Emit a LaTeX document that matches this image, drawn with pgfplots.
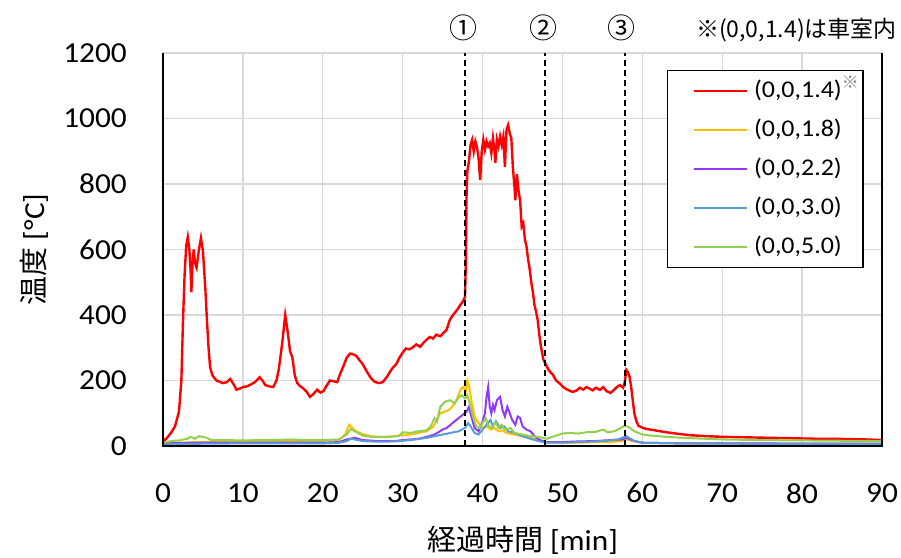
\documentclass[border=0pt]{standalone}
\usepackage{fontspec}
\setmainfont{Carlito}[FakeStretch=1.08]
\newfontfamily\cjk{Noto Sans CJK JP}
\usepackage{pgfplots}
\pgfplotsset{compat=1.18}
\definecolor{cRed}{RGB}{255,0,0}
\definecolor{cYel}{RGB}{255,192,0}
\definecolor{cPur}{RGB}{146,56,245}
\definecolor{cBlu}{RGB}{91,155,213}
\definecolor{cGrn}{RGB}{146,208,80}
\definecolor{cGrid}{RGB}{217,217,217}
\begin{document}
\begin{tikzpicture}
\path[use as bounding box] (-163pt,-111pt) rectangle (738pt,446pt);
\begin{axis}[
  at={(0pt,0pt)}, anchor=south west,
  scale only axis, width=719pt, height=393pt,
  xmin=0, xmax=90, ymin=0, ymax=1200,
  xtick={0,10,...,90}, ytick={0,200,...,1200},
  grid=major, major grid style={cGrid, line width=1.3pt},
  major tick length=0pt,
  axis line style={draw=none},
  clip=false,
  /pgf/number format/assume math mode=true,
  /pgf/number format/1000 sep={},
  tick label style={font=\fontsize{29}{34}\selectfont, inner sep=0pt},
  yticklabel style={anchor=east, xshift=-36pt},
  xticklabel style={anchor=north, yshift=-37pt},
  xlabel={{\cjk 経過時間} [min]},
  ylabel={{\cjk 温度} [°C]},
  label style={font=\fontsize{29}{34}\selectfont},
  xlabel style={at={(axis description cs:0.5,-0.239)}, anchor=center},
  ylabel style={at={(axis description cs:-0.179,0.5)}, anchor=center},
  legend cell align=left,
  legend image code/.code={\path (0pt,0pt); \draw[#1] (21pt,0pt) -- (74pt,0pt);},
  legend style={at={(rel axis cs:0.701,0.957)}, anchor=north west, draw=black, line width=1.2pt,
    font=\fontsize{24}{29}\selectfont, inner xsep=4pt, inner ysep=8pt, row sep=14pt, column sep=6pt,
    nodes={inner sep=0pt, text height=19pt, text depth=6pt}},
]
\addplot[cRed, line width=2.4pt] coordinates {
(0,12)(0.5,25)(1.0,40)(1.5,60)(2.0,105)(2.3,200)(2.5,380)(2.7,520)(2.9,610)(3.1,638)(3.3,600)(3.45,540)(3.55,470)(3.7,560)(3.85,600)(4.0,560)(4.2,545)(4.5,600)(4.75,635)(5.0,595)(5.3,480)(5.5,385)(5.7,300)(5.9,240)(6.2,215)(6.7,200)(7.2,195)(7.5,192)(8.0,195)(8.4,205)(8.8,190)(9.2,172)(9.6,175)(10,180)(10.5,182)(11,188)(11.5,195)(12.1,210)(12.5,198)(12.8,186)(13.3,182)(13.8,180)(14.2,200)(14.5,235)(14.9,310)(15.3,400)(15.6,350)(15.9,290)(16.2,270)(16.5,215)(16.8,192)(17.2,182)(17.5,177)(18.0,165)(18.4,150)(18.8,158)(19.3,172)(19.7,163)(20.1,168)(20.5,185)(20.9,200)(21.3,198)(21.8,195)(22.2,222)(22.6,245)(23.0,270)(23.4,282)(23.8,280)(24.2,275)(24.6,262)(25.0,250)(25.5,228)(26.0,208)(26.5,196)(27.0,192)(27.5,195)(28.0,210)(28.5,230)(28.8,240)(29.2,250)(29.6,270)(30.0,285)(30.4,298)(30.8,295)(31.2,300)(31.7,310)(32.2,303)(32.6,315)(33.0,325)(33.4,333)(33.8,328)(34.2,340)(34.7,335)(35.1,345)(35.5,355)(35.9,385)(36.3,400)(36.8,415)(37.2,430)(37.5,440)(37.8,455)(37.9,550)(38.0,770)(38.1,840)(38.3,870)(38.5,920)(38.7,935)(38.9,900)(39.1,930)(39.3,913)(39.5,880)(39.7,812)(39.9,900)(40.1,935)(40.3,905)(40.5,930)(40.7,915)(40.9,925)(41.1,895)(41.3,940)(41.5,900)(41.6,865)(41.8,935)(42.0,915)(42.2,945)(42.4,920)(42.6,945)(42.8,852)(43.0,965)(43.2,980)(43.4,955)(43.6,940)(43.8,850)(44.0,790)(44.1,750)(44.3,830)(44.5,780)(44.7,750)(44.9,670)(45.1,680)(45.3,630)(45.5,610)(45.7,570)(45.9,540)(46.1,500)(46.3,470)(46.5,430)(46.7,410)(46.9,385)(47.1,340)(47.3,305)(47.6,265)(47.9,250)(48.2,235)(48.5,225)(48.8,218)(49.2,200)(49.7,190)(50.1,180)(50.6,172)(51.0,168)(51.3,165)(51.8,170)(52.2,178)(52.6,172)(53.0,180)(53.4,175)(53.8,170)(54.2,178)(54.7,171)(55.1,180)(55.5,168)(56.0,162)(56.4,170)(56.8,180)(57.2,186)(57.6,178)(57.8,195)(58.0,232)(58.2,225)(58.4,212)(58.6,180)(58.8,140)(59.0,100)(59.2,80)(59.5,62)(60.0,56)(60.5,52)(61.3,49)(62.0,46)(63,42)(64.5,37)(66,33)(68,30)(70,28)(72,27)(74,26)(76,25)(78,24)(80,23)(82,22)(84,22)(86,21)(88,20)(90,18)};
\addlegendentry{(0,0,1.4)\textsuperscript{\color{gray}\cjk ※}}
\addplot[cYel, line width=2pt] coordinates {
(0,8)(2,10)(4,12)(6,12)(8,13)(10,14)(12,14)(14,15)(16,15)(18,15)(20,16)(22,18)(22.8,35)(23.3,65)(23.7,55)(24.2,45)(25,36)(26,30)(27,28)(28,28)(29,30)(30,33)(31,35)(32,40)(33,45)(33.8,58)(34.3,80)(34.7,100)(35.3,105)(35.9,112)(36.5,130)(36.9,150)(37.3,175)(37.6,180)(37.9,165)(38.1,200)(38.3,185)(38.6,140)(39.0,90)(39.5,70)(40.0,55)(40.5,60)(41.0,50)(41.5,55)(42.0,45)(42.5,48)(43,40)(44,35)(45,30)(46,25)(47,18)(48,12)(50,10)(52,10)(54,12)(56,12)(57.5,15)(58,20)(59,15)(60,10)(65,8)(70,8)(80,7)(90,7)};
\addlegendentry{(0,0,1.8)}
\addplot[cPur, line width=2pt] coordinates {
(0,8)(5,10)(10,10)(15,10)(20,10)(22,12)(23,20)(24,25)(25,18)(27,15)(29,15)(30,18)(31,20)(32,22)(33,28)(34,35)(35,50)(35.5,55)(36,65)(36.5,75)(37,85)(37.5,95)(38,105)(38.3,120)(38.6,90)(39,55)(39.5,45)(40.0,75)(40.3,100)(40.5,150)(40.7,180)(40.9,120)(41.1,100)(41.3,125)(41.5,110)(41.8,140)(42.2,150)(42.5,110)(42.8,90)(43.1,120)(43.4,100)(43.7,80)(44.1,65)(44.4,90)(44.7,86)(45.0,60)(45.5,50)(46,45)(46.5,30)(47.2,18)(48,12)(50,12)(52,14)(54,15)(56,18)(57.5,20)(58,25)(59,15)(60,10)(65,8)(70,8)(90,7)};
\addlegendentry{(0,0,2.2)}
\addplot[cBlu, line width=2pt] coordinates {
(0,5)(5,7)(10,8)(15,8)(20,8)(22,10)(23,15)(23.5,22)(24,20)(25,15)(27,13)(29,14)(31,18)(33,25)(35,35)(36,40)(37,45)(37.8,55)(38.2,70)(38.5,60)(39,40)(39.5,35)(40,50)(40.5,65)(41,80)(41.3,60)(41.7,75)(42.2,55)(42.7,60)(43.2,45)(44,40)(45,30)(46,22)(47,15)(48,10)(50,10)(52,12)(55,15)(57,20)(58,30)(59,15)(60,10)(65,8)(70,7)(90,6)};
\addlegendentry{(0,0,3.0)}
\addplot[cGrn, line width=2pt] coordinates {
(0,10)(1,15)(2,17)(3,22)(3.5,28)(4,22)(4.5,30)(5.5,25)(6,18)(8,18)(10,17)(12,18)(14,18)(16,20)(18,18)(20,18)(22,20)(23,35)(23.5,52)(24,45)(25,32)(26,28)(28,28)(29.5,30)(30,42)(31,40)(32,45)(33,48)(33.5,60)(34,85)(34.3,75)(34.7,120)(35.3,135)(35.9,140)(36.5,130)(37,148)(37.4,155)(37.8,145)(38.1,155)(38.4,130)(38.8,90)(39.2,60)(39.6,55)(40.0,70)(40.4,85)(40.8,60)(41.2,55)(41.6,75)(42.0,55)(42.4,65)(42.8,50)(43.5,55)(44,40)(45,35)(46,30)(47,28)(48,22)(49,30)(50,38)(51,40)(52,38)(53,42)(54,42)(55,50)(55.3,48)(55.6,42)(56.5,45)(57.3,55)(57.8,62)(58.3,58)(59,45)(60,35)(61,32)(63,28)(65,25)(70,20)(75,18)(80,17)(85,16)(90,15)};
\addlegendentry{(0,0,5.0)}
\addplot[forget plot, black, line width=2pt, dash pattern=on 6pt off 4pt] coordinates {(37.8,0)(37.8,1200)};
\addplot[forget plot, black, line width=2pt, dash pattern=on 6pt off 4pt] coordinates {(47.8,0)(47.8,1200)};
\addplot[forget plot, black, line width=2pt, dash pattern=on 6pt off 4pt] coordinates {(57.8,0)(57.8,1200)};
\draw[black, line width=2.2pt] (rel axis cs:0,1) -- (rel axis cs:0,0) -- (rel axis cs:1,0) -- (rel axis cs:1,1);
\node[font=\fontsize{28}{30}\selectfont\cjk, inner sep=0pt] at (axis cs:37.6,1200) [yshift=25pt] {①};
\node[font=\fontsize{28}{30}\selectfont\cjk, inner sep=0pt] at (axis cs:47.6,1200) [yshift=25pt] {②};
\node[font=\fontsize{28}{30}\selectfont\cjk, inner sep=0pt] at (axis cs:57.4,1200) [yshift=25pt] {③};
\node[font=\fontsize{23}{26}\selectfont\cjk, anchor=east, inner sep=0pt] at (rel axis cs:1,1) [xshift=15pt, yshift=23pt] {※(0,0,1.4)は車室内};
\end{axis}
\end{tikzpicture}
\end{document}
